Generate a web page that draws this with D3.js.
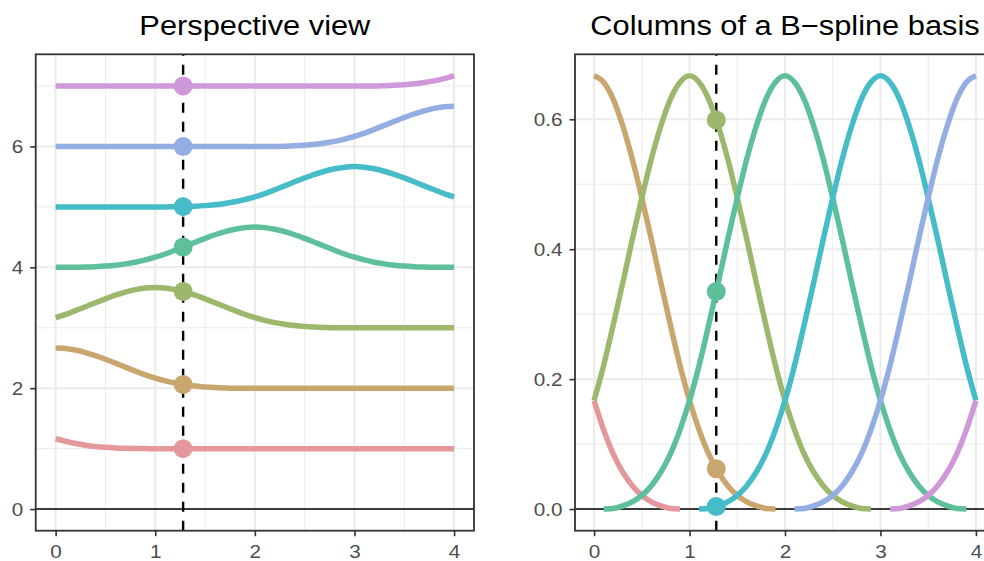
<!DOCTYPE html>
<html>
<head>
<meta charset="utf-8">
<script src="https://cdn.jsdelivr.net/npm/d3@7"></script>
<style>
 body{margin:0;background:#fff;}
 svg{display:block;font-family:"Liberation Sans",Arial,Helvetica,sans-serif;}
</style>
</head>
<body>
<svg id="chart" width="984" height="561"></svg>
<script>
// x grid (0 to 4, step 0.1)
var xs = [0,0.1,0.2,0.3,0.4,0.5,0.6,0.7,0.8,0.9,
          1,1.1,1.2,1.3,1.4,1.5,1.6,1.7,1.8,1.9,
          2,2.1,2.2,2.3,2.4,2.5,2.6,2.7,2.8,2.9,
          3,3.1,3.2,3.3,3.4,3.5,3.6,3.7,3.8,3.9,4];

// basis columns
var b1 = [0.167,0.122,0.085,0.057,0.036,0.021,0.011,0.005,0.001,0.0002,
          0,0,0,0,0,0,0,0,0,0,
          0,0,0,0,0,0,0,0,0,0,
          0,0,0,0,0,0,0,0,0,0,0];
var b2 = [0.667,0.657,0.631,0.590,0.539,0.479,0.415,0.348,0.283,0.221,
          0.167,0.122,0.085,0.057,0.036,0.021,0.011,0.005,0.001,0.0002,
          0,0,0,0,0,0,0,0,0,0,
          0,0,0,0,0,0,0,0,0,0,0];
var b3 = [0.167,0.221,0.283,0.348,0.415,0.479,0.539,0.590,0.631,0.657,
          0.667,0.657,0.631,0.590,0.539,0.479,0.415,0.348,0.283,0.221,
          0.167,0.122,0.085,0.057,0.036,0.021,0.011,0.005,0.001,0.0002,
          0,0,0,0,0,0,0,0,0,0,0];
var b4 = [0,0.0002,0.001,0.005,0.011,0.021,0.036,0.057,0.085,0.122,
          0.167,0.221,0.283,0.348,0.415,0.479,0.539,0.590,0.631,0.657,
          0.667,0.657,0.631,0.590,0.539,0.479,0.415,0.348,0.283,0.221,
          0.167,0.122,0.085,0.057,0.036,0.021,0.011,0.005,0.001,0.0002,0];
var b5 = [0,0,0,0,0,0,0,0,0,0,
          0,0.0002,0.001,0.005,0.011,0.021,0.036,0.057,0.085,0.122,
          0.167,0.221,0.283,0.348,0.415,0.479,0.539,0.590,0.631,0.657,
          0.667,0.657,0.631,0.590,0.539,0.479,0.415,0.348,0.283,0.221,0.167];
var b6 = [0,0,0,0,0,0,0,0,0,0,
          0,0,0,0,0,0,0,0,0,0,
          0,0.0002,0.001,0.005,0.011,0.021,0.036,0.057,0.085,0.122,
          0.167,0.221,0.283,0.348,0.415,0.479,0.539,0.590,0.631,0.657,0.667];
var b7 = [0,0,0,0,0,0,0,0,0,0,
          0,0,0,0,0,0,0,0,0,0,
          0,0,0,0,0,0,0,0,0,0,
          0,0.0002,0.001,0.005,0.011,0.021,0.036,0.057,0.085,0.122,0.167];
var basis = [b1,b2,b3,b4,b5,b6,b7];

var offsets = [1,2,3,4,5,6,7];          // perspective shift per column
var noOffsets = [0,0,0,0,0,0,0];
var colors = ["#E5989C","#C9A66D","#9BB86C","#5DC09A","#47BCC9","#94ADE2","#CF99D9"];

var dotX = 1.28;                         // evaluation point
var dotVals = [0,0.062,0.599,0.335,0.004,0,0];

var xTicks = [0,1,2,3,4];
var xMinor = [0.5,1.5,2.5,3.5];
var leftYTicks = [0,2,4,6];
var leftYMinor = [1,3,5,7];
var rightYTicks = [0,0.2,0.4,0.6];
var rightYMinor = [0.1,0.3,0.5,0.7];
var titles = ["Perspective view","Columns of a B\u2212spline basis"];

var svg = d3.select("#chart");
var panelTop = 54.3, panelBottom = 530.7;
var sx = 1.15;                           // text is a bit wide in the reference

function panel(p){
 var g = svg.append("g");
 var x = d3.scaleLinear().domain([-0.2,4.2]).range([p.left,p.right]);
 var y = d3.scaleLinear().domain(p.yDomain).range([panelBottom,panelTop]);

 g.append("clipPath").attr("id","clip"+p.id).append("rect")
  .attr("x",p.left).attr("y",panelTop)
  .attr("width",p.right-p.left).attr("height",panelBottom-panelTop);
 var plot = g.append("g").attr("clip-path","url(#clip"+p.id+")");

 // grid lines
 plot.selectAll(".vmin").data(xMinor).enter().append("line")
  .attr("x1",x).attr("x2",x).attr("y1",panelTop).attr("y2",panelBottom)
  .attr("stroke","#EBEBEB").attr("stroke-width",1);
 plot.selectAll(".hmin").data(p.yMinor).enter().append("line")
  .attr("y1",y).attr("y2",y).attr("x1",p.left).attr("x2",p.right)
  .attr("stroke","#EBEBEB").attr("stroke-width",1);
 plot.selectAll(".vmaj").data(xTicks).enter().append("line")
  .attr("x1",x).attr("x2",x).attr("y1",panelTop).attr("y2",panelBottom)
  .attr("stroke","#EBEBEB").attr("stroke-width",2);
 plot.selectAll(".hmaj").data(p.yTicks).enter().append("line")
  .attr("y1",y).attr("y2",y).attr("x1",p.left).attr("x2",p.right)
  .attr("stroke","#EBEBEB").attr("stroke-width",2);

 // zero line and evaluation point
 plot.append("line").attr("x1",p.left).attr("x2",p.right)
  .attr("y1",y(0)).attr("y2",y(0))
  .attr("stroke","#000").attr("stroke-width",1.6);
 plot.append("line").attr("x1",x(dotX)).attr("x2",x(dotX))
  .attr("y1",panelBottom).attr("y2",panelTop)
  .attr("stroke","#000").attr("stroke-width",2.4)
  .attr("stroke-dasharray","10,9");

 var line = d3.line().x(function(d){return x(d.x);}).y(function(d){return y(d.y);})
  .curve(d3.curveMonotoneX);

 basis.forEach(function(col,i){
  var pts = [];
  for(var j=0;j<xs.length;j++){
   if(p.positiveOnly && !(col[j] > 0)) continue;
   pts.push({x: xs[j], y: col[j] + p.offsets[i]});
  }
  plot.append("path").datum(pts)
   .attr("d",line).attr("fill","none")
   .attr("stroke",colors[i]).attr("stroke-width",5.5)
   .attr("stroke-linecap","butt").attr("stroke-linejoin","round");
 });

 dotVals.forEach(function(v,i){
  if(p.positiveOnly && !(v > 0)) return;
  plot.append("circle").attr("cx",x(dotX)).attr("cy",y(v + p.offsets[i]))
   .attr("r",9.5).attr("fill",colors[i]);
 });

 // border
 g.append("rect").attr("x",p.left).attr("y",panelTop)
  .attr("width",p.right-p.left).attr("height",panelBottom-panelTop)
  .attr("fill","none").attr("stroke","#333333").attr("stroke-width",1.8);

 // axes
 var ay = g.append("g").attr("transform","translate("+p.left+",0)")
  .call(d3.axisLeft(y).tickValues(p.yTicks).tickSize(5.5).tickFormat(p.fmt));
 ay.select(".domain").remove();
 ay.selectAll("line").attr("stroke","#333333").attr("stroke-width",1.6);
 ay.selectAll("text").attr("fill","#4D4D4D").style("font-size","18px")
  .attr("x",-12.5/sx).attr("dy","0.36em").attr("transform","scale("+sx+",1)");

 var ax = g.append("g").attr("transform","translate(0,"+panelBottom+")")
  .call(d3.axisBottom(x).tickValues(xTicks).tickSize(5.5).tickFormat(d3.format("d")));
 ax.select(".domain").remove();
 ax.selectAll("line").attr("stroke","#333333").attr("stroke-width",1.6);
 ax.selectAll("text").attr("fill","#4D4D4D").style("font-size","18px")
  .attr("y",27.5).attr("dy",0).attr("transform","scale("+sx+",1)");

 // title
 g.append("text")
  .attr("transform","translate("+((p.left+p.right)/2)+",35) scale(1.1,1)")
  .attr("text-anchor","middle").style("font-size","28px").attr("fill","#000")
  .text(p.title);
}

panel({id:1, left:35.7, right:474, yDomain:[-0.358,7.525],
       yTicks:leftYTicks, yMinor:leftYMinor, fmt:d3.format("d"),
       offsets:offsets, positiveOnly:false, title:titles[0]});
panel({id:2, left:575, right:995, yDomain:[-0.0333,0.7],
       yTicks:rightYTicks, yMinor:rightYMinor, fmt:d3.format(".1f"),
       offsets:noOffsets, positiveOnly:true, title:titles[1]});
</script>
</body>
</html>
